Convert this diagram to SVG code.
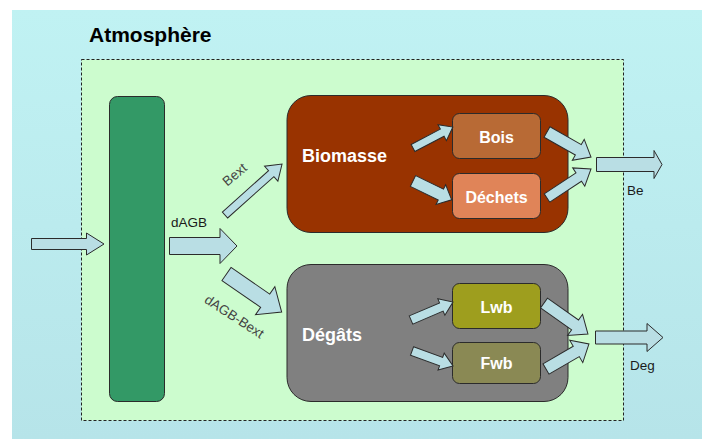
<svg xmlns="http://www.w3.org/2000/svg" width="702" height="439" viewBox="0 0 702 439">
<defs>
<linearGradient id="bg" x1="0" y1="0" x2="0" y2="1">
<stop offset="0" stop-color="#C0F2F3"/>
<stop offset="1" stop-color="#B6E4E9"/>
</linearGradient>
</defs>
<style>
.arr{fill:#B9DEE4;stroke:#2b2b2b;stroke-width:1;stroke-linejoin:miter}
.box{stroke:#2b2b2b;stroke-width:1}
.wt{font-family:"Liberation Sans",Arial,sans-serif;font-weight:bold;fill:#ffffff}
.lbl{font-family:"Liberation Sans",Arial,sans-serif;font-size:13.5px;fill:#1a1a1a}
.rl{font-family:"Liberation Sans",Arial,sans-serif;font-size:13.5px;fill:#444444}
</style>
<rect x="0" y="0" width="702" height="439" fill="#ffffff"/>
<g id="atmosphere">
<rect x="12" y="10" width="690" height="429" fill="url(#bg)"/>
<text x="89" y="42" font-family="Liberation Sans, Arial, sans-serif" font-weight="bold" font-size="21" fill="#000">Atmosphère</text>
</g>
<g id="ecosystem">
<rect x="81.5" y="59.5" width="542" height="361" fill="#CCFCCE" stroke="#222" stroke-width="1" stroke-dasharray="3,2"/>
</g>
<g id="vegetation">
<rect class="box" x="109.5" y="96.5" width="55" height="305" rx="8" fill="#339966"/>
</g>
<g id="biomasse">
<rect class="box" x="287" y="95.5" width="281" height="137" rx="24" fill="#993300"/>
<text class="wt" x="302" y="162" font-size="18">Biomasse</text>
</g>
<g id="bois">
<rect class="box" x="452.5" y="113.5" width="88" height="45" rx="7" fill="#B86A35"/>
<text class="wt" x="496.5" y="143" font-size="16" text-anchor="middle">Bois</text>
</g>
<g id="dechets">
<rect class="box" x="452.5" y="173.5" width="88" height="45" rx="7" fill="#E08458"/>
<text class="wt" x="496.5" y="203" font-size="16" text-anchor="middle">Déchets</text>
</g>
<g id="degats">
<rect class="box" x="287" y="264.5" width="281" height="137" rx="24" fill="#808080"/>
<text class="wt" x="302" y="341" font-size="18">Dégâts</text>
</g>
<g id="lwb">
<rect class="box" x="452.5" y="283.5" width="88" height="45" rx="7" fill="#9E9E1E"/>
<text class="wt" x="496.5" y="313" font-size="16" text-anchor="middle">Lwb</text>
</g>
<g id="fwb">
<rect class="box" x="452.5" y="342.5" width="88" height="41" rx="7" fill="#8A8954"/>
<text class="wt" x="496.5" y="369" font-size="16" text-anchor="middle">Fwb</text>
</g>
<g id="connectors">
<path class="arr" d="M31.5,238.5 H86.5 V233 L104,244 L86.5,255 V249.5 H31.5 Z"/>
<path class="arr" d="M169.5,237.5 H220 V228.5 L237,246 L220,263.5 V254.5 H169.5 Z"/>
<path class="arr" d="M596.5,157.5 H654 V150.5 L662,164.5 L654,178.5 V171.5 H596.5 Z"/>
<path class="arr" d="M595.5,331 H647 V323.5 L663,337.5 L647,351.5 V344 H595.5 Z"/>
<path class="arr" transform="translate(225,215) rotate(-41.8)" d="M0,-4 H62 V-10 L76.5,0 L62,10 V4 H0 Z"/>
<path class="arr" transform="translate(226.5,274) rotate(34.6)" d="M0,-8 H47 V-17 L67,0 L47,17 V8 H0 Z"/>
<path class="arr" transform="translate(413,148) rotate(-27.7)" d="M0,-4 H33 V-9 L45,0 L33,9 V4 H0 Z"/>
<path class="arr" transform="translate(413,181) rotate(26)" d="M0,-6 H31 V-11 L43,0 L31,11 V6 H0 Z"/>
<path class="arr" transform="translate(547,132) rotate(29.6)" d="M0,-6 H36 V-12 L50.6,0 L36,12 V6 H0 Z"/>
<path class="arr" transform="translate(547,198) rotate(-33.4)" d="M0,-5 H38 V-11 L52.7,0 L38,11 V5 H0 Z"/>
<path class="arr" transform="translate(411,320) rotate(-23.2)" d="M0,-4.5 H33 V-9 L45.7,0 L33,9 V4.5 H0 Z"/>
<path class="arr" transform="translate(412,351) rotate(20.1)" d="M0,-4.5 H31 V-9 L43.7,0 L31,9 V4.5 H0 Z"/>
<path class="arr" transform="translate(544,303) rotate(35.2)" d="M0,-6 H38 V-13 L53.8,0 L38,13 V6 H0 Z"/>
<path class="arr" transform="translate(546,369) rotate(-30.2)" d="M0,-6 H35 V-13 L49.7,0 L35,13 V6 H0 Z"/>
<text class="lbl" x="171" y="227">dAGB</text>
<text class="lbl" x="627" y="195">Be</text>
<text class="lbl" x="630" y="370">Deg</text>
<text class="rl" transform="translate(235,175) rotate(-40)" x="0" y="4" text-anchor="middle">Bext</text>
<text class="rl" transform="translate(234,317) rotate(33)" x="0" y="4" text-anchor="middle">dAGB-Bext</text>
</g>
</svg>
